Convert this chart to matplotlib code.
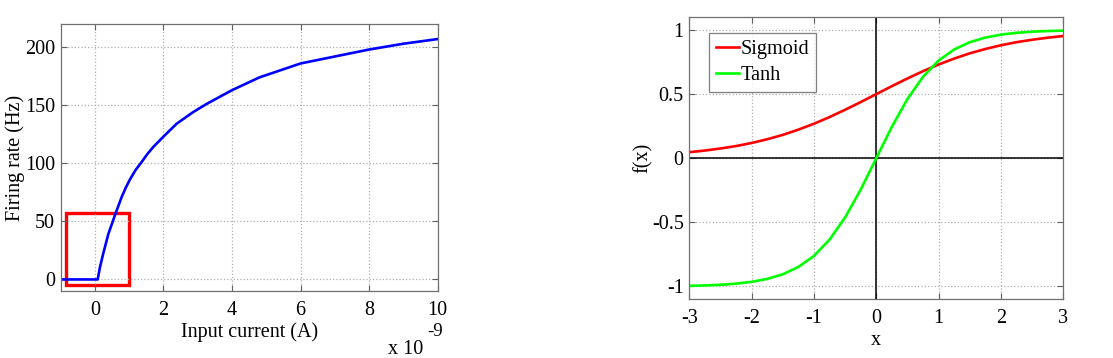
import matplotlib.pyplot as plt
from matplotlib.patches import Rectangle

plt.rcParams['font.family'] = ['Liberation Serif', 'DejaVu Serif']
plt.rcParams['mathtext.fontset'] = 'stix'

# left panel: firing rate vs input current (x in units of 1e-9 A)
current = [-1, 0.08, 0.15, 0.24, 0.39, 0.58, 0.78, 0.9, 1.02, 1.18, 1.36, 1.53,
           1.7, 2.0, 2.38, 2.86, 3.25, 4.0, 4.8, 6, 7, 8, 9, 10]
rate = [0, 0, 11, 22, 39, 55, 71, 79, 86, 94, 101, 108,
        114, 123, 134, 144, 151, 163, 174, 186, 192, 198, 203, 207]
box_x = [-0.83, 0.98]
box_y = [-5, 57]

# right panel: activation functions
xs = [-3, -2.75, -2.5, -2.25, -2, -1.75, -1.5, -1.25, -1, -0.75, -0.5, -0.25, 0,
      0.25, 0.5, 0.75, 1, 1.25, 1.5, 1.75, 2, 2.25, 2.5, 2.75, 3]
sigmoid = [0.047, 0.060, 0.076, 0.095, 0.119, 0.148, 0.182, 0.223, 0.269, 0.321,
           0.378, 0.438, 0.5, 0.562, 0.622, 0.679, 0.731, 0.777, 0.818, 0.852,
           0.881, 0.905, 0.924, 0.940, 0.953]
tanh = [-0.995, -0.992, -0.987, -0.978, -0.964, -0.941, -0.905, -0.848, -0.762,
        -0.635, -0.462, -0.245, 0, 0.245, 0.462, 0.635, 0.762, 0.848, 0.905,
        0.941, 0.964, 0.978, 0.987, 0.992, 0.995]

fig = plt.figure(figsize=(11.13, 3.58), dpi=100)
ax1 = fig.add_axes([0.0545, 0.187, 0.3387, 0.746])
ax2 = fig.add_axes([0.6193, 0.164, 0.336, 0.788])

fs = 14.5
for ax in (ax1, ax2):
    ax.grid(True, linestyle=':', color='#b0b0b0', linewidth=0.9)
    ax.tick_params(direction='in', labelsize=fs, color='#606060', length=4,
                   top=True, right=True)
    ax.tick_params(axis='x', pad=7)
    ax.tick_params(axis='y', pad=4)
    for s in ax.spines.values():
        s.set_color('#707070')
        s.set_linewidth(0.9)

ax1.plot(current, rate, color='#0000ff', linewidth=1.9)
ax1.add_patch(Rectangle((box_x[0], box_y[0]), box_x[1] - box_x[0], box_y[1] - box_y[0],
                        fill=False, edgecolor='#ff0000', linewidth=2.4))
ax1.set_xlim(-1, 10)
ax1.set_ylim(-10, 220)
ax1.set_xticks([0, 2, 4, 6, 8, 10])
ax1.set_yticks([0, 50, 100, 150, 200])
ax1.set_xlabel('Input current (A)', fontsize=fs, labelpad=2)
ax1.set_ylabel('Firing rate (Hz)', fontsize=fs, labelpad=0)
fig.text(0.380, 0.012, 'x 10', ha='right', va='baseline', fontsize=fs)
fig.text(0.3836, 0.075, '-9', ha='left', va='center', fontsize=fs - 1)

ax2.axhline(0, color='black', linewidth=1.1)
ax2.axvline(0, color='black', linewidth=1.1)
ax2.plot(xs, sigmoid, color='#ff0000', linewidth=1.9, label='Sigmoid')
ax2.plot(xs, tanh, color='#00ff00', linewidth=1.9, label='Tanh')
ax2.set_xlim(-3, 3)
ax2.set_ylim(-1.1, 1.1)
ax2.set_xticks([-3, -2, -1, 0, 1, 2, 3])
ax2.set_yticks([-1, -0.5, 0, 0.5, 1])
ax2.set_yticklabels(['-1', '-0.5', '0', '0.5', '1'])
ax2.set_xticklabels(['-3', '-2', '-1', '0', '1', '2', '3'])
ax2.set_xlabel('x', fontsize=fs, labelpad=2)
ax2.set_ylabel('f(x)', fontsize=fs, labelpad=-1)
leg = ax2.legend(loc='upper left', bbox_to_anchor=(0.0535, 0.945), borderaxespad=0,
                 fontsize=14.6, frameon=True, fancybox=False,
                 handlelength=1.1, handletextpad=0.1,
                 borderpad=0.35, labelspacing=0.35)
leg.get_frame().set_edgecolor('#606060')
leg.get_frame().set_linewidth(0.9)

fig.savefig('out.png', dpi=100)
